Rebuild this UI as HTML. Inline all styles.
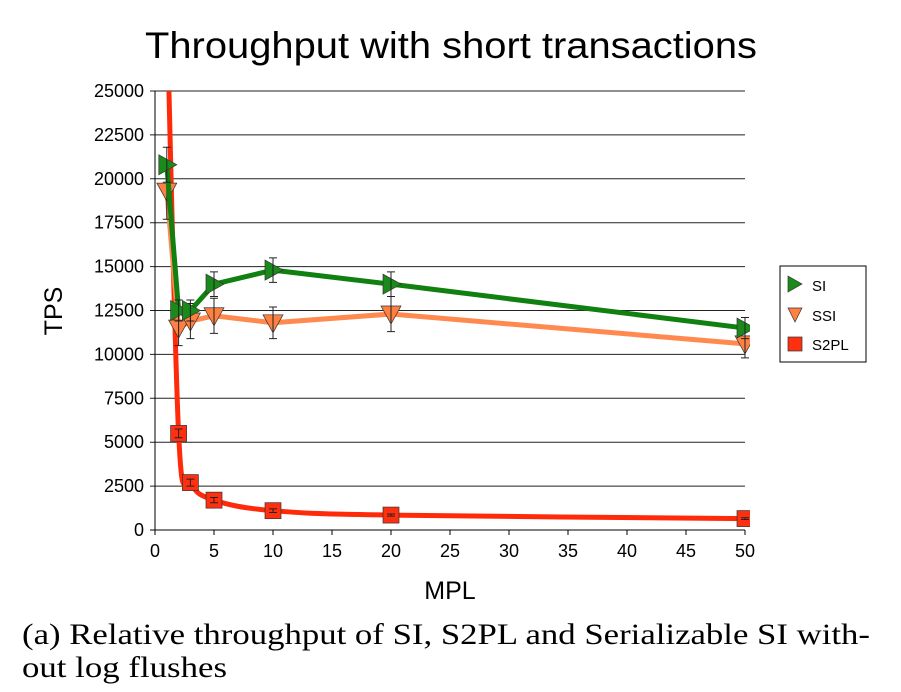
<!DOCTYPE html>
<html><head><meta charset="utf-8"><style>
body{margin:0;background:#fff;width:901px;height:692px;overflow:hidden}
svg{display:block}
</style></head><body>
<svg id="chart" width="901" height="692" font-family="Liberation Sans, sans-serif">
<defs><clipPath id="plotclip"><rect x="150" y="91" width="600" height="440"/></clipPath></defs>
<text x="145" y="58" font-size="37" textLength="612" lengthAdjust="spacingAndGlyphs">Throughput with short transactions</text>
<g id="grid"></g>
<g id="axes"></g>
<g id="series"></g>
<text x="450" y="599" text-anchor="middle" font-size="25">MPL</text>
<text transform="translate(62,311) rotate(-90)" text-anchor="middle" font-size="25">TPS</text>
<g>
<rect x="780" y="266" width="86" height="96" fill="#fff" stroke="#000" stroke-width="1"/>
<polygon points="788,276 802,284 788,292" fill="#1a8a1a" stroke="#333" stroke-width="0.7"/>
<text x="812" y="291" font-size="15">SI</text>
<polygon points="788,308 802,308 795,322" fill="#ff8040" stroke="#333" stroke-width="0.7"/>
<text x="812" y="321" font-size="15">SSI</text>
<rect x="788" y="337" width="14" height="14" fill="#ff3010" stroke="#333" stroke-width="0.7"/>
<text x="812" y="350" font-size="15">S2PL</text>
</g>
<text x="22" y="644" font-family="Liberation Serif, serif" font-size="30" textLength="848" lengthAdjust="spacingAndGlyphs">(a) Relative throughput of SI, S2PL and Serializable SI with-</text>
<text x="22" y="677" font-family="Liberation Serif, serif" font-size="30" textLength="205" lengthAdjust="spacingAndGlyphs">out log flushes</text>
</svg>
<script>
const mpl=[1,2,3,5,10,20,50];
const siVals=[20800,12500,12500,14000,14800,14000,11500];
const siErr=[1000,600,600,700,700,700,600];
const ssiVals=[19300,11500,11900,12200,11800,12300,10600];
const ssiErr=[1600,1000,1000,1000,900,1000,800];
const s2plVals=[30000,5500,2700,1700,1100,850,650];
const s2plErr=[0,250,200,150,100,60,50];
const xTicks=[0,5,10,15,20,25,30,35,40,45,50];
const yTicks=[0,2500,5000,7500,10000,12500,15000,17500,20000,22500,25000];
const NS='http://www.w3.org/2000/svg';
const X=v=>155+v*(590/50);
const Y=v=>530-v*(439/25000);
function mk(tag,attrs,parent){const e=document.createElementNS(NS,tag);for(const k in attrs)e.setAttribute(k,attrs[k]);parent.appendChild(e);return e;}
const grid=document.getElementById('grid'),axes=document.getElementById('axes'),series=document.getElementById('series');
yTicks.forEach(t=>{
 const l=mk('line',{x1:150,x2:745,y1:Y(t),y2:Y(t),stroke:t===0?'#000':'#222','stroke-width':1},grid);
 
 
 const tx=mk('text',{x:144,y:Y(t)+6,'text-anchor':'end','font-size':18},axes);
 tx.textContent=t;
 
 
});
mk('line',{x1:155,x2:155,y1:91,y2:535,stroke:'#000'},axes);
xTicks.forEach(t=>{
 mk('line',{x1:X(t),x2:X(t),y1:530,y2:535,stroke:'#000'},axes);
 const tx=mk('text',{x:X(t),y:557,'text-anchor':'middle','font-size':18},axes);
 tx.textContent=t;
 
 
});
function smoothPath(vals){
 const p=mpl.map((m,i)=>[X(m),Y(vals[i])]);
 let d='M'+p[0][0]+','+p[0][1];
 for(let i=0;i<p.length-1;i++){
  const p0=p[Math.max(0,i-1)],p1=p[i],p2=p[i+1],p3=p[Math.min(p.length-1,i+2)];
  const c1=[p1[0]+(p2[0]-p0[0])/6,p1[1]+(p2[1]-p0[1])/6];
  const c2=[p2[0]-(p3[0]-p1[0])/6,p2[1]-(p3[1]-p1[1])/6];
  d+=' C'+c1+' '+c2+' '+p2;
 }
 return d;
}
function linePath(vals){return mpl.map((m,i)=>(i?'L':'M')+X(m)+','+Y(vals[i])).join(' ');}
function drawSeries(name,vals,errs,color,shape,smooth){
 const g=mk('g',{'clip-path':'url(#plotclip)'},series);
 
 
 const path=mk('path',{d:smooth?smoothPath(vals):linePath(vals),fill:'none',stroke:color,'stroke-width':5,'stroke-linejoin':'round'},g);
 
 
 mpl.forEach((m,i)=>{
  const x=X(m),y=Y(vals[i]);
  let el;
  if(shape==='tri-right') el=mk('polygon',{points:`${x-8},${y-10} ${x+10},${y} ${x-8},${y+10}`,fill:'#1a8a1a',stroke:'#333','stroke-width':0.7},g);
  else if(shape==='tri-down') el=mk('polygon',{points:`${x-10},${y-8} ${x+10},${y-8} ${x},${y+10}`,fill:'#ff8040',stroke:'#333','stroke-width':0.7},g);
  else el=mk('rect',{x:x-8,y:y-8,width:16,height:16,fill:'#ff3010',stroke:'#333','stroke-width':0.7},g);
  
  
  if(errs[i]>0){
   const y1=Y(vals[i]+errs[i]),y2=Y(vals[i]-errs[i]);
   mk('path',{d:`M${x},${y1}V${y2}M${x-4},${y1}H${x+4}M${x-4},${y2}H${x+4}`,stroke:'#222','stroke-width':1,fill:'none'},g);
  }
 });
}
drawSeries('s2pl',s2plVals,s2plErr,'#ff2a0a','square',true);
drawSeries('ssi',ssiVals,ssiErr,'#ff8a50','tri-down',false);
drawSeries('si',siVals,siErr,'#108010','tri-right',false);
</script>
</body></html>
